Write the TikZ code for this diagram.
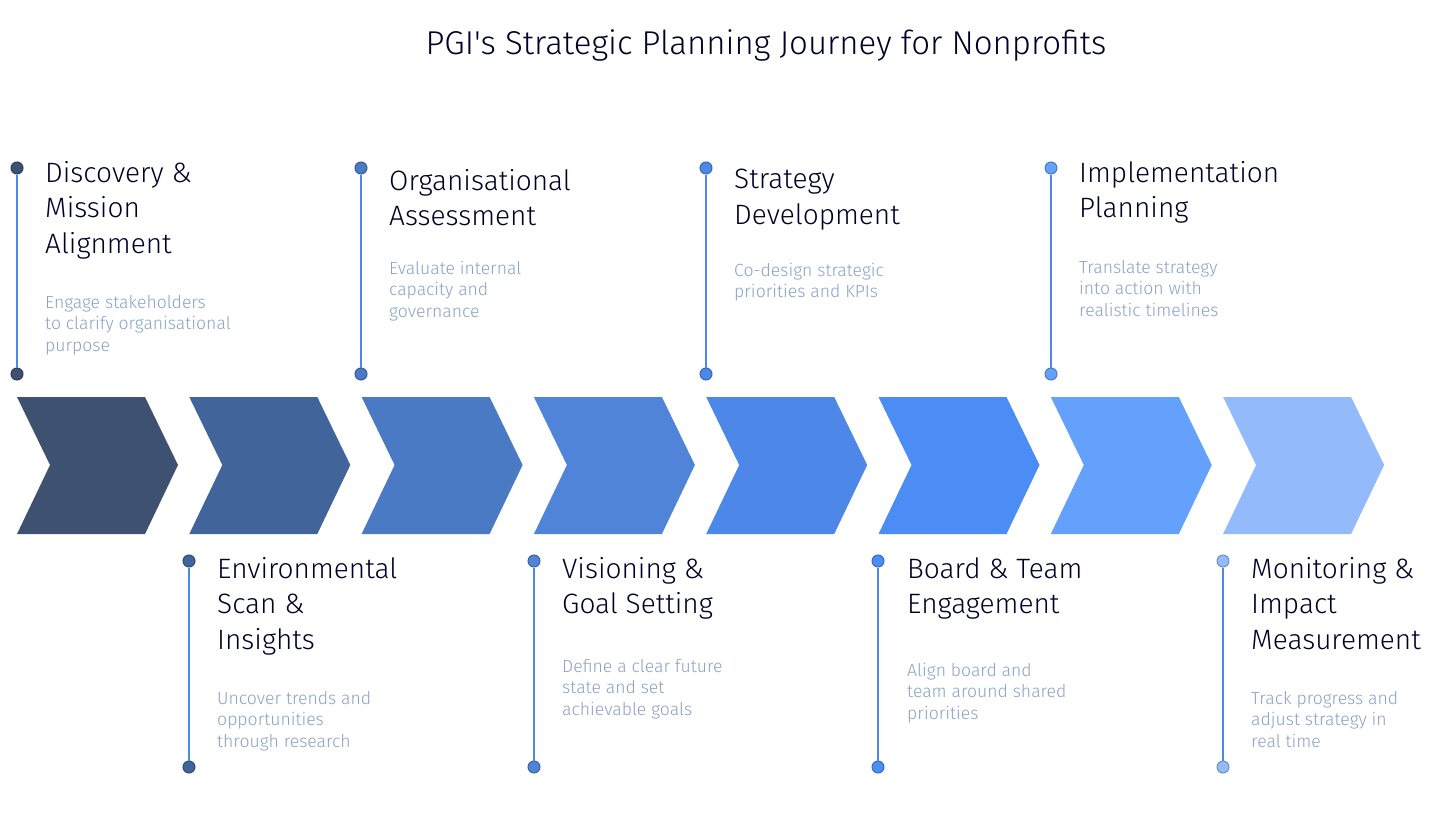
\documentclass[tikz,border=0pt]{standalone}
\usepackage{fontspec}
\setmainfont{Fira Sans}
\newfontfamily\lightfont{Fira Sans Light}
\begin{document}
\begin{tikzpicture}[x=1pt,y=-1pt,
 ttl/.style={anchor=north west,inner sep=0pt,align=left,text=black!85!blue,font=\lightfont\fontsize{28}{35.5}\selectfont},
 dsc/.style={anchor=north west,inner sep=0pt,align=left,text=c9,font=\lightfont\fontsize{17.6}{21.5}\selectfont},
 dot/.style={circle,draw=#1!75!black,fill=#1,line width=1pt,inner sep=0pt,minimum size=12pt},
 stem/.style={draw=c5,line width=1.8pt}]
\definecolor{c1}{HTML}{3F5170}\definecolor{c2}{HTML}{41649A}\definecolor{c3}{HTML}{4A7AC4}
\definecolor{c4}{HTML}{4F84D9}\definecolor{c5}{HTML}{4D88E8}\definecolor{c6}{HTML}{4C8DF5}
\definecolor{c7}{HTML}{64A1FC}\definecolor{c8}{HTML}{93BBFC}\definecolor{c9}{HTML}{8AA2C6}
\useasboundingbox (0,0) rectangle (1456,840);
\node[inner sep=0pt,text=black!85!blue,font=\lightfont\fontsize{33}{38}\selectfont] (title) at (766,45) {PGI's Strategic Planning Journey for Nonprofits};
\foreach \i/\c in {0/c1,1/c2,2/c3,3/c4,4/c5,5/c6,6/c7,7/c8}{
  \fill[\c] ({17+172.3*\i},397) -- ({145+172.3*\i},397) -- ({178+172.3*\i},465) -- ({145+172.3*\i},534) -- ({17+172.3*\i},534) -- ({50+172.3*\i},465) -- cycle;
}
\foreach \x/\c/\n in {17/c1/a,361/c3/b,706/c5/c,1051/c7/d}{
  \node[dot=\c] (\n1) at (\x,168) {};
  \node[dot=\c] (\n2) at (\x,374) {};
  \draw[stem] (\n1) -- (\n2);
}
\foreach \x/\c/\n in {189/c2/e,534/c4/f,878/c6/g,1223/c8/h}{
  \node[dot=\c] (\n1) at (\x,561) {};
  \node[dot=\c] (\n2) at (\x,767) {};
  \draw[stem] (\n1) -- (\n2);
}
\node[ttl] (t1) at (45,161) {Discovery \&\\Mission\\Alignment};
\node[dsc] (d1) at (45,295) {Engage stakeholders\\to clarify organisational\\purpose};
\node[ttl] (t2) at (389,169) {Organisational\\Assessment};
\node[dsc] (d2) at (389,261) {Evaluate internal\\capacity and\\governance};
\node[ttl] (t3) at (734,169) {Strategy\\Development};
\node[dsc] (d3) at (734,263) {Co-design strategic\\priorities and KPIs};
\node[ttl] (t4) at (1079,161) {Implementation\\Planning};
\node[dsc] (d4) at (1079,260) {Translate strategy\\into action with\\realistic timelines};
\node[ttl] (t5) at (217,557) {Environmental\\Scan \&\\Insights};
\node[dsc] (d5) at (217,691) {Uncover trends and\\opportunities\\through research};
\node[ttl] (t6) at (562,557) {Visioning \&\\Goal Setting};
\node[dsc] (d6) at (562,659) {Define a clear future\\state and set\\achievable goals};
\node[ttl] (t7) at (907,557) {Board \& Team\\Engagement};
\node[dsc] (d7) at (907,663) {Align board and\\team around shared\\priorities};
\node[ttl] (t8) at (1251,557) {Monitoring \&\\Impact\\Measurement};
\node[dsc] (d8) at (1251,691) {Track progress and\\adjust strategy in\\real time};
\end{tikzpicture}
\end{document}
